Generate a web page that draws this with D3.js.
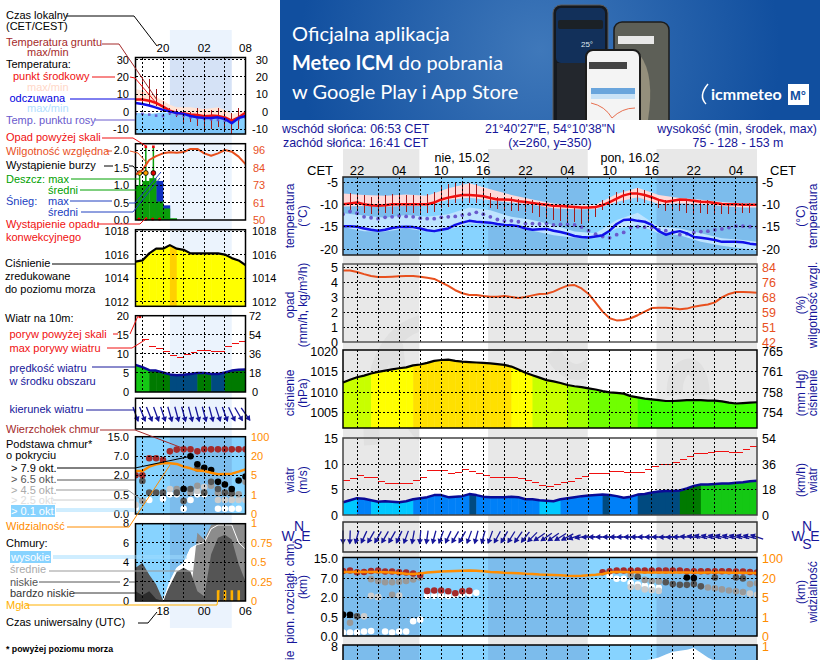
<!DOCTYPE html>
<html>
<head>
<meta charset="utf-8">
<script src="https://cdn.jsdelivr.net/npm/d3@7"></script>
<style>
html, body { margin: 0; padding: 0; background: white; overflow: hidden; }
svg { display: block; }
text { font-family: "Liberation Sans", Arial, sans-serif; }
</style>
</head>
<body>
<div id="chart"></div>
<script>
// ---------- main meteogram, one value per hour, hour 0 = 14.02 20:00 CET
const tempMid = [-10,-9.8,-9.6,-10,-10.2,-10.3,-10.2,-10,-10,-10,-10,-10,-10,-9.6,-8.9,-8.5,-8.2,-7.9,-7.9,-8,-8.2,-8.6,-8.9,-8.9,-9,-9.3,-9.5,-9.7,-9.9,-10.1,-10.3,-10.4,-10.5,-10.6,-10.7,-10.7,-10.6,-10.2,-9.5,-8.7,-8,-7.6,-7.6,-7.9,-8.4,-9,-9.4,-9.2,-8.9,-9,-9.2,-9.4,-9.5,-9.7,-9.9,-10,-10,-10.1,-10.1,-10.1]
const feelMid = [-14.9,-14.9,-15,-15.4,-15.7,-15.9,-15.7,-15.3,-15.1,-15,-15.1,-15.4,-15.8,-16,-15.7,-15.4,-14.6,-14.1,-13.7,-13.9,-14,-14.1,-14.4,-14.6,-14.7,-14.9,-15.4,-15.7,-15.6,-15.5,-15.9,-16.2,-16.6,-17.1,-17.3,-17.4,-17.2,-16.9,-15.9,-14.4,-13.5,-13.4,-13.7,-13.9,-14.6,-16,-16.8,-16.3,-16,-16.5,-17.3,-17.5,-17.7,-18,-18.4,-18.4,-18.4,-18.5,-18.8,-19]
const dewPoint = [-12.2,-11.6,-12,-12.8,-13,-13.2,-12.9,-12.8,-12.6,-12.7,-12.8,-13.1,-13.2,-13.2,-12.9,-12.8,-12.7,-12.4,-12.2,-11.8,-12.2,-12.8,-13.4,-13.7,-13.7,-13.9,-14.3,-14.3,-14.4,-14.3,-14.6,-14.5,-14.5,-14.6,-15.1,-15.9,-16.7,-17.2,-17.5,-16.8,-16.3,-15.2,-15,-15.1,-15.2,-15.7,-15.9,-16.2,-16.8,-16.6,-16.3,-16.1,-16,-15.7,-15.5,-15.2,-14.9,-14.9,-15,-15.1]
// ground temperature starts at hour 1
const groundMax = [-7.4,-7.7,-7.9,-8.4,-7.9,-7.8,-7.7,-7.5,-7.8,-7.8,-8.1,-7.7,-7.3,-6,-5.5,-5.3,-5.1,-5.3,-5.4,-6.3,-7.4,-8.4,-8.4,-8.4,-8.7,-8.9,-9,-9.4,-9.4,-10.1,-10.1,-10.4,-10.4,-10.5,-10.5,-10.4,-9,-8.1,-7.2,-6.8,-6.6,-6.4,-6.8,-7.5,-8.7,-9,-8.9,-8.7,-8.9,-9,-9,-9,-9.3,-9.6,-9.6,-9.6,-9.8,-9.8]
const groundMin = [-11.3,-11.6,-11.9,-12.2,-12.2,-12,-12.2,-11.6,-11.8,-11.9,-11.9,-12,-11.7,-10.9,-10.7,-9.8,-9.6,-9.6,-9.8,-9.9,-10.9,-11.1,-11.3,-11.4,-11.4,-11.8,-12,-12.8,-13.1,-13.5,-13.7,-14.3,-13.9,-14.3,-13.9,-12.8,-11.3,-10.7,-10.1,-9.8,-9.4,-9.4,-9.6,-10.1,-10.9,-11.4,-11.4,-11.6,-11.9,-12,-12,-12.2,-12.2,-12.2,-12.2,-12,-11.9,-12]
// min/max bands are read every 3 hours
const bandHours = [0,3,6,9,12,15,18,21,24,27,30,33,36,39,42,45,48,51,54,57,59]
const tempMax = [-7.6,-7.9,-8.1,-7.8,-8.1,-6.4,-5.3,-6.6,-7.9,-8.9,-9.8,-10.2,-10.1,-7.7,-6.3,-7.9,-8.6,-9,-9.5,-9.8,-9.8]
const tempMin = [-10.5,-10.4,-10.5,-10.4,-10.4,-9,-8.5,-9.1,-9.6,-10.1,-10.9,-11.1,-11.1,-9.5,-8.4,-9.9,-9.8,-9.9,-10.4,-10.7,-10.7]
const feelMax = [-12,-12.5,-13,-12.4,-12.8,-12.2,-10.7,-11.3,-12.8,-13.5,-14.6,-16.1,-16.5,-13.5,-11.9,-15,-15.4,-16.5,-17.6,-18,-18.4]
const feelMin = [-15.1,-16,-16.1,-15.4,-16.1,-15.7,-14.3,-14.4,-15,-15.9,-16.9,-17.5,-17.6,-15.4,-14.6,-16.5,-16.9,-18.4,-19.3,-19.9,-20.4]

const humidity = [82,82,81.2,80,79,78.4,78.4,78.6,78.8,79,79,78.6,78,77.3,75.4,73.4,71,69.3,68.3,68.3,67.8,67.4,67.4,67.8,67.2,66.6,67.2,68.1,68.9,69,70.2,72,73.6,73.9,72,68.9,64,59,55.3,54.1,54.3,55.3,57,59,61,61.2,61.2,60.9,60.3,60.7,61.8,62.4,63,64.2,67,68.9,70,70,69.8,69.6]
const pressure = [1012.3,1013,1013.6,1014,1014.5,1014.9,1015.2,1015.5,1015.8,1016,1016.5,1016.7,1017.1,1017.6,1017.8,1017.9,1017.6,1017.4,1017.3,1017.2,1017.1,1017,1016.8,1016.6,1016.2,1015.5,1014.7,1014.1,1013.5,1012.9,1012.6,1012.2,1011.7,1011.4,1011.2,1010.9,1010.6,1010.2,1009.9,1009.8,1009.6,1009,1008.7,1008.4,1008.2,1008,1007.8,1007.8,1007.9,1008,1008,1008,1007.9,1007.9,1007.7,1007.4,1007.2,1007.3,1007.4,1007.5]
const windSpeed = [2.5,2.9,3.3,3.2,2.9,2.6,2.7,2.6,2.5,2.7,3.1,3.3,3.5,3.9,3.9,3.5,3.6,3.7,4.1,3.9,3.6,3.5,3.5,3.5,3.6,3.5,3.1,3.1,2.9,2.8,2.7,3.1,3.3,3.5,3.7,3.8,3.9,4,3.9,3.7,3.4,3.6,4,4.1,4.4,4.6,4.7,4.7,4.8,5.2,5.7,6,6,6.1,6.2,6.2,6.3,6.4,6.6,6.7]
// gust is a step over each hour, so one value fewer
const windGust = [6.8,7.2,7.7,7.4,7.4,6.6,6.2,6.2,6.2,6.2,6.8,7.4,8.8,8.8,8.8,8.2,8.4,9,8.6,8.2,7.8,7.4,7.4,7.4,7.4,7.2,6.8,6.4,5.8,5.6,6,6.4,6.6,7.2,7.5,8.2,8.2,8.2,8.6,8.6,8.4,8.4,8.4,9,9.6,10,10,10.3,10.9,11.5,12,12,12.2,12.4,12.4,12.2,12.2,12.8,13.4]
const windDir = [0,2,15,25,30,30,30,30,25,20,10,5,8,15,20,25,30,30,20,15,15,20,28,30,32,35,38,45,55,55,55,58,62,70,80,88,90,90,90,90,90,90,90,90,90,90,88,88,90,95,100,105,105,105,105,105,105,105,105,108]
const visibility = [44,44,45,44,44,44,43,42,40,37,36,38,42,44,46,47,48,49,50,49,47,44,43,41,40,39,37,36,34,33,32,31,29,28,29,31,33,36,43,44,44,43,43,42,42,42,42,42,42,42,42,41,42,42,42,41,41,41,40,40]

// cloud base dots: [hour, km], only hours where a dot is drawn
const topMain = [[0,9.8],[1,10],[2,9.3],[3,9.4],[4,9.8],[5,10],[6,9.6],[7,9.6],[8,9.3],[9,9.2],[10,8.8],[11,8.2],[12,3.6],[13,3.7],[14,3.7],[15,3.5],[16,3],[17,3.5],[18,3.6],[37,9.3],[38,9.7],[39,10],[40,10],[41,10],[42,10],[43,10],[44,10],[45,10],[46,10],[47,10],[48,10],[49,9.7],[50,9.7],[51,9.7],[52,9.7],[53,9.7],[54,9.7],[55,9.7],[56,9.6],[57,9.6],[58,9.4],[59,9.2]]
const okt79Main = [[0,.66],[1,.66],[49,7.2],[50,7]]
const okt65Main = [[0,.68],[2,.55],[42,7.5],[46,5.9],[47,5.4],[48,5.2],[49,5.2],[50,5.4],[51,4.8],[53,7.2],[56,7.2],[57,6.9]]
const okt45Main = [[1,.35],[4,6.7],[5,6.2],[6,5.9],[7,5.9],[8,6],[9,6.2],[10,6.6],[11,7.2],[7,2.6],[41,8.2],[43,6.5],[44,6.2],[45,6.1],[52,4.5],[53,4.3],[54,4],[55,3.7],[56,3.5],[57,3.3],[58,5.4],[59,5.6]]
const okt25Main = [[3,.55],[4,2.3],[5,2],[8,2.4],[41,4.6],[42,4.6],[43,4],[44,3.8],[45,3.6],[57,3.2],[58,2.9],[59,2.6]]
const okt01Main = [[0,.09],[1,.09],[2,.09],[3,.12],[4,.13],[6,.12],[7,.09],[8,.12],[9,.12],[10,.39],[11,.43],[5,2],[12,2.3],[13,2.3],[14,2.3],[15,2.3],[16,2.5],[17,2.8],[18,2.9],[19,3.1],[38,7.8],[39,6.8],[40,6.8],[41,5.7],[42,5.3],[43,5],[44,4.6],[45,4.4]]
// high cloud cover near the top of the cut-off panel
const coverHours = [41,42,43,44,45,46,47,48,49,50,51,52,53,54]
const coverHigh = [5.5,6.3,6.5,6.6,6.8,7.1,7.4,7.5,7.6,7.8,7.3,6.8,6.4,5.8]

// ---------- small meteogram on the left, hour 0 = 16:00 CET
const smTempMid = [7,7,6.3,5,2.9,.6,-.8,-1,-1.7,-2,-2.7,-2.3,-2.5,-3.3,-5.2,-3.3,-.6]
const smFeelMid = [5,4.4,3.5,2.3,1,0,-.8,-1.3,-2.5,-3.3,-3.7,-3.7,-3.3,-4.2,-6.7,-3.7,-2.5]
const smTempMax = [13,12,11,8.5,6.3,4,2.5,2.5,2.5,2,1.5,2,2.5,1,-1.3,-.5,.6]
const smTempMin = [6.3,6,5,3,1,-.5,-1.5,-2,-2.5,-3,-3.3,-3.3,-3.3,-4,-6,-4,-1.5]
const smFeelMax = [-.8,-1,-1.3,-1,-.4,-1,-1.3,-2,-2.3,-3,-3.3,-3.3,-3.3,-4,-5.2,-4,-2.3]
const smDew = [-1.3,-1.3,-1.7,-2.3,-2.5,-1,-1.7,-2.3,-3.3,-3.7,-4.2,-4.4,-4.8,-5.2,-5.6,-4.4,-3.3]
const smGroundHours = [1,2,3,4,5,6,7,8,9,10,11,12,13,14,15,16]
const smGroundMax = [20,19,13,6,2,1.5,0,0,2,1.5,1,2,0,-1,2,3]
const smGroundMin = [5,4,3,0,-2,-3,-6,-6,-8,-10,-10,-9,-12,-13,-10,-6]
const smRainMean = [1,1.12,1.2,.53,.33,.05,0,0]
const smSnowMean = [0,0,0,1.12,.42,0,0,0]
const smRainMaxHours = [.6,1.5,2.6]
const stormColors = ["#ffe000", "#ffa000", "#e00000"]
const smHumidity = [80,82.9,89.6,92.2,94,94.7,94.4,94.9,96.9,96.9,94,92.4,94,96.2,95.1,91.8,86.9]
const smPressure = [1015.4,1015.5,1016.1,1016.5,1016.5,1016.8,1016.5,1016.4,1016.1,1016.1,1016.1,1016.1,1016.1,1016,1015.7,1015.5,1015.1]
const smWind = [7.1,6.5,5.7,5.6,5.1,4.6,4.4,4.5,4.7,5,5,4.7,4.7,5.1,5.6,5.8,5.9]
const smGust = [null,13.6,11.8,11.5,10.6,9.6,8.9,9.8,10.4,10.9,10.9,10.6,10.6,11.8,12.8,13.1]
const smDir = [340,338,338,340,342,344,345,345,345,345,345,345,342,340,335,330,325]
const smVisibility = [8.4,8.4,11.8,13.7,14.5,14.5,14,11.8,10.5,8.7,8.4,7,5.8,6,6.3,7.9,9.7]
const smTop = [2,2,6.5,6.5,6,9,9.7,9.8,9.8,9,9.8,9.8,9.8,9.8,9.8,9.8,9.8]
const smOkt79 = [[7,.96],[8,7],[9,4.9],[10,4],[11,3.4],[12,1.5],[13,1.3],[14,.96],[15,1.6],[16,1.9]]
const smOkt65 = [[1,1.57],[2,.68],[3,.68],[4,.68],[6,.68],[7,.34],[8,.96],[9,3.8],[10,.68],[11,1.5],[12,.96],[13,.68],[14,.64]]
const smOkt45 = [[1,.34],[6,.96],[8,.68],[9,1.2],[11,1.2],[12,.64],[14,.6],[15,.56],[16,1.5]]
const smOkt25 = [[0,.24],[5,.96],[6,.64],[9,.8],[10,1.1],[12,.37],[13,.37],[14,.37],[15,.37],[16,.37]]
const smOkt01 = [[0,.15],[2,.37],[4,.4],[5,.55],[6,.55],[7,.14],[8,.37],[9,.55],[10,.55],[12,.14],[13,.14],[14,.14],[15,.14]]
const smHigh = [0,0,0,0,0,2,3.4,3.9,5.4,5.8,6,7.4,7.8,7.8,7.8,6,5.3]
const smMid = [1.5,1,1,.5,0,0,.5,1,.6,7,6.3,7.8,8,8,8,8,8]
const smLow = [3.4,3.9,2.7,1.7,.1,1.6,3,3.4,3,1,.5,4.8,6.5,6.8,6.3,3.8,2]
const smVeryLow = [1,.6,1,.2,0,0,0,0,0,0,0,0,0,0,0,0,0]
const smFogHours = [12,13,14,15]
const smFog = [1.1,1.1,1.1,1.1]

// ---------- tick labels
const humLabels = [84,76,68,59,51,42]
const smHumLabels = [96,84,73,61,50]
const coverLabels = ["1","0.75","0.5","0.25","0"]
const kmTicks = [0,.5,2,7,15]
const visTicks = [0,1,5,20,100]

const NAVY = "#16169a", NIGHT = "#7cbcec", DAY = "#87d3ff", RUST = "#e8501e", ORANGE = "#ff8c00"
const width = 820, height = 660

const svg = d3.select("#chart").append("svg")
    .attr("width", width)
    .attr("height", height)

const defs = svg.append("defs")
let clipCount = 0
function clipRect(x, y, w, h) {
    const id = "clip" + (clipCount++)
    defs.append("clipPath").attr("id", id).append("rect")
        .attr("x", x).attr("y", y).attr("width", w).attr("height", h)
    return "url(#" + id + ")"
}

function label(parent, t, x, y, color, size, anchor, weight) {
    return parent.append("text")
        .attr("x", x).attr("y", y)
        .attr("fill", color || "black")
        .attr("font-size", size || 11)
        .attr("text-anchor", anchor || "start")
        .attr("font-weight", weight || "normal")
        .text(t)
}
function sideLabel(t, x, y, size) {
    svg.append("text")
        .attr("transform", `translate(${x},${y}) rotate(-90)`)
        .attr("text-anchor", "middle")
        .attr("fill", NAVY)
        .attr("font-size", size || 12)
        .text(t)
}

// a tick column through d3's axis, grid is drawn separately
function ticks(x, scale, values, side, opt) {
    opt = opt || {}
    const ax = (side === "left" ? d3.axisLeft(scale) : d3.axisRight(scale))
        .tickValues(values)
        .tickSize(0)
        .tickPadding(0)
        .tickFormat(opt.format || (d => d))
    const g = svg.append("g").attr("transform", `translate(${x},0)`).call(ax)
    g.select(".domain").remove()
    g.selectAll("text")
        .attr("fill", opt.color || "black")
        .attr("font-size", opt.size || 12.5)
        .attr("font-family", '"Liberation Sans", Arial, sans-serif')
    if (opt.anchor) g.selectAll("text").attr("text-anchor", opt.anchor)
}

function grid(p, x, hours, y, values) {
    const g = svg.append("g")
        .attr("stroke", "black")
        .attr("stroke-width", 1)
        .attr("stroke-dasharray", "2,2")
        .attr("shape-rendering", "crispEdges")
    g.selectAll(".v").data(hours).join("line")
        .attr("x1", d => x(d)).attr("x2", d => x(d))
        .attr("y1", p.top).attr("y2", p.bottom)
    g.selectAll(".h").data(values).join("line")
        .attr("x1", x.range()[0]).attr("x2", x.range()[1])
        .attr("y1", d => y(d)).attr("y2", d => y(d))
}
function frame(p, x, color) {
    svg.append("rect")
        .attr("x", x.range()[0]).attr("y", p.top)
        .attr("width", x.range()[1] - x.range()[0])
        .attr("height", p.bottom - p.top)
        .attr("fill", "none")
        .attr("stroke", color || "black")
        .attr("stroke-width", 1.5)
}
function bandArea(g, hours, hi, lo, x, y, color) {
    g.append("path").datum(hours.map((h, i) => ({h, hi: hi[i], lo: lo[i]})))
        .attr("fill", color)
        .attr("d", d3.area().x(d => x(d.h)).y0(d => y(d.lo)).y1(d => y(d.hi)))
}
function hourLine(g, values, x, y, color, w) {
    g.append("path").datum(values)
        .attr("fill", "none")
        .attr("stroke", color)
        .attr("stroke-width", w)
        .attr("stroke-linejoin", "round")
        .attr("d", d3.line().defined(d => d !== null).x((d, i) => x(i)).y(d => y(d)))
}
function dots(g, data, x, y, color, r) {
    g.selectAll(null).data(data).join("circle")
        .attr("cx", d => x(d[0])).attr("cy", d => y(d[1]))
        .attr("r", r).attr("fill", color)
}
// light/dark sky behind temperature and cloud panels
function skyBands(g, p, x, night, sunrise, sunset) {
    const x0 = x.range()[0], x1 = x.range()[1]
    g.append("rect").attr("x", x0).attr("y", p.top).attr("width", x1 - x0).attr("height", p.bottom - p.top).attr("fill", night)
    sunrise.forEach((s, i) => {
        g.append("rect").attr("x", x(s)).attr("y", p.top)
            .attr("width", x(sunset[i]) - x(s)).attr("height", p.bottom - p.top)
            .attr("fill", DAY)
    })
}
function arrows(g, dirs, x, cy, len, head) {
    dirs.forEach((dir, i) => {
        const a = dir * Math.PI / 180
        const dx = Math.sin(a) * len / 2, dy = -Math.cos(a) * len / 2
        const tx = x(i) - dx, ty = cy - dy   // tip
        g.append("line")
            .attr("x1", x(i) + dx).attr("y1", cy + dy)
            .attr("x2", tx).attr("y2", ty)
            .attr("stroke", NAVY).attr("stroke-width", 1.3)
        const ux = -Math.sin(a), uy = Math.cos(a)
        g.append("path")
            .attr("fill", NAVY)
            .attr("d", `M${tx + ux},${ty + uy}L${tx - ux * head - uy * head * .7},${ty - uy * head + ux * head * .7}L${tx - ux * head + uy * head * .7},${ty - uy * head - ux * head * .7}Z`)
    })
}

// ---------- day and night strip of the main chart
const hourX = d3.scaleLinear().domain([0, 59]).range([343, 757])
const sunriseMain = [10.88, 34.88], sunsetMain = [20.68, 44.68]
const stripTop = 149
svg.append("rect").attr("x", 343).attr("y", stripTop).attr("width", 414).attr("height", height - stripTop).attr("fill", "#e8e8e8")
// faint logo watermark, only seen in the grey night parts
svg.append("g").attr("fill", "none").attr("stroke", "#e0e0e0").attr("stroke-width", 16)
    .selectAll("path").data([
        "M372,445 C368,375 385,330 425,322",
        "M395,345 C400,390 405,420 425,436",
        "M552,352 C565,375 585,382 600,352",
        "M675,395 C672,365 700,350 702,395"
    ]).join("path").attr("d", d => d)
sunriseMain.forEach((s, i) => {
    svg.append("rect").attr("x", hourX(s)).attr("y", stripTop)
        .attr("width", hourX(sunsetMain[i]) - hourX(s)).attr("height", height - stripTop).attr("fill", "white")
})

// ---------- banner
const bannerGrad = defs.append("radialGradient").attr("id", "bannerGrad")
    .attr("gradientUnits", "userSpaceOnUse").attr("cx", 540).attr("cy", 50).attr("r", 240)
bannerGrad.append("stop").attr("offset", "0%").attr("stop-color", "#3f78ba")
bannerGrad.append("stop").attr("offset", "100%").attr("stop-color", "#114f9f")
svg.append("rect").attr("x", 280).attr("y", 0).attr("width", 540).attr("height", 120).attr("fill", "url(#bannerGrad)")
const bannerFont = "Lato"
label(svg, "Oficjalna aplikacja", 292, 41, "white", 20).style("font-family", bannerFont)
const bannerMid = label(svg, "", 292, 70, "white", 20).style("font-family", bannerFont)
bannerMid.append("tspan").attr("font-weight", "bold").text("Meteo ICM")
bannerMid.append("tspan").text(" do pobrania")
label(svg, "w Google Play i App Store", 292, 99, "white", 20).style("font-family", bannerFont)

const phones = svg.append("g").attr("clip-path", clipRect(280, 0, 540, 120))
phones.append("rect").attr("x", 553).attr("y", 5).attr("width", 55).attr("height", 125).attr("rx", 8).attr("fill", "#15191f").attr("stroke", "#5a5a5a")
phones.append("rect").attr("x", 556).attr("y", 8).attr("width", 49).attr("height", 55).attr("rx", 5).attr("fill", "#12305a")
phones.append("rect").attr("x", 558).attr("y", 20).attr("width", 45).attr("height", 9).attr("rx", 2).attr("fill", "#1b2126")
phones.append("rect").attr("x", 557).attr("y", 63).attr("width", 48).attr("height", 60).attr("fill", "#23272d")
label(phones, "25°", 587, 47, "#dfe8f2", 8, "middle")
phones.append("rect").attr("x", 614).attr("y", 22).attr("width", 55).attr("height", 110).attr("rx", 8).attr("fill", "#5d5f57").attr("stroke", "#1c1c1c").attr("stroke-width", 1.5)
phones.append("rect").attr("x", 618).attr("y", 36).attr("width", 36).attr("height", 8).attr("fill", "#e8e8e8")
phones.append("path").attr("d", "M640,55 Q655,75 648,120 L632,120 Q636,85 640,55").attr("fill", "#948f7c")
phones.append("rect").attr("x", 586).attr("y", 50).attr("width", 54).attr("height", 80).attr("rx", 7).attr("fill", "#f4f4f4").attr("stroke", "#1c1c1c").attr("stroke-width", 2)
phones.append("rect").attr("x", 589).attr("y", 62).attr("width", 38).attr("height", 7).attr("fill", "#444")
phones.append("rect").attr("x", 591).attr("y", 88).attr("width", 44).attr("height", 6).attr("fill", "#6aa5dc")
phones.append("rect").attr("x", 591).attr("y", 94).attr("width", 44).attr("height", 5).attr("fill", "#c9e2f6")
phones.append("path").attr("d", "M591,103 Q605,106 612,118 Q622,108 635,108").attr("fill", "none").attr("stroke", "#e87050")
label(svg, "icmmeteo", 711, 100, "white", 16, "start", "bold").style("font-family", bannerFont)
svg.append("path").attr("d", "M708,84 Q698,96 706,104").attr("fill", "none").attr("stroke", "white").attr("stroke-width", 1.5)
svg.append("rect").attr("x", 788).attr("y", 84).attr("width", 21).attr("height", 21).attr("fill", "white")
label(svg, "M°", 798, 100, "#114f9f", 13, "middle", "bold")

// ---------- header lines
const headSize = 12.4
label(svg, "wschód słońca: 06:53 CET", 282, 133, NAVY, headSize)
label(svg, "zachód słońca: 16:41 CET", 283, 147, NAVY, headSize)
label(svg, "21°40'27\"E, 54°10'38\"N", 550, 133, NAVY, headSize, "middle")
label(svg, "(x=260, y=350)", 550, 147, NAVY, headSize, "middle")
label(svg, "wysokość (min, środek, max)", 817, 133, NAVY, headSize, "end")
label(svg, "75 - 128 - 153 m", 738, 147, NAVY, headSize, "middle")
label(svg, "nie, 15.02", 462, 162, "black", 12.5, "middle")
label(svg, "pon, 16.02", 630, 162, "black", 12.5, "middle")
label(svg, "CET", 307, 175, "black", 13)
label(svg, "CET", 770, 175, "black", 13)

const hourLabels = ["22","04","10","16","22","04","10","16","22","04"]
const labelHours = d3.range(2, 59, 6)
svg.append("g").selectAll("text").data(labelHours).join("text")
    .attr("x", d => hourX(d)).attr("y", 175)
    .attr("text-anchor", "middle").attr("font-size", 13)
    .text((d, i) => hourLabels[i])

const gridHours = d3.range(2, 59, 3)
const LEFT = 338, RIGHT = 762
// baselines of the rotated panel titles
const COL1 = 294, COL2 = 307, COL3 = 805, COL4 = 817

// ---------- main: temperature
const pTemp = {top: 177, bottom: 255}
const yTemp = d3.scaleLinear().domain([-20, -5]).range([249, 182])
const gTemp = svg.append("g").attr("clip-path", clipRect(343, pTemp.top, 414, pTemp.bottom - pTemp.top))
skyBands(gTemp, pTemp, hourX, NIGHT, sunriseMain, sunsetMain)
bandArea(gTemp, bandHours, feelMax, feelMin, hourX, yTemp, "#bfe4ff")
bandArea(gTemp, bandHours, tempMax, tempMin, hourX, yTemp, "#ffd9d9")
const groundLines = gTemp.append("g").attr("stroke", "#a01818").attr("stroke-width", 1).attr("shape-rendering", "crispEdges")
groundMax.forEach((d, i) => {
    groundLines.append("line")
        .attr("x1", hourX(i + 1)).attr("x2", hourX(i + 1))
        .attr("y1", yTemp(d)).attr("y2", yTemp(groundMin[i]))
})
gTemp.selectAll(null).data(dewPoint).join("circle")
    .attr("cx", (d, i) => hourX(i)).attr("cy", d => yTemp(d))
    .attr("r", 1.9).attr("fill", "#6a5acd")
hourLine(gTemp, tempMid, hourX, yTemp, "#f01010", 2.5)
hourLine(gTemp, feelMid, hourX, yTemp, "#1010e8", 2.5)
grid(pTemp, hourX, gridHours, yTemp, [-20, -15, -10, -5])
frame(pTemp, hourX, "#222")
ticks(LEFT, yTemp, [-5, -10, -15, -20], "left")
ticks(RIGHT, yTemp, [-5, -10, -15, -20], "right")
sideLabel("temperatura", COL1, 216)
sideLabel("(°C)", COL2, 216)
sideLabel("(°C)", COL3, 216)
sideLabel("temperatura", COL4, 216)

// ---------- main: precipitation (none) and humidity
const pRain = {top: 264, bottom: 342}
const yRain = d3.scaleLinear().domain([0, 5]).range([342, 267])
const yHum = d3.scaleLinear().domain([42, 84]).range([342, 267])
const gRain = svg.append("g")
hourLine(gRain, humidity, hourX, yHum, RUST, 2)
grid(pRain, hourX, gridHours, yRain, [1, 2, 3, 4, 5])
frame(pRain, hourX, "#555")
ticks(LEFT, yRain, [0, 1, 2, 3, 4, 5], "left")
ticks(RIGHT, yRain, [5, 4, 3, 2, 1, 0], "right", {color: RUST, format: (d, i) => humLabels[i]})
sideLabel("opad", COL1, 305)
sideLabel("(mm/h, kg/m³/h)", COL2, 305)
sideLabel("(%)", COL3, 305)
sideLabel("wilgotność wzgl.", COL4, 305)

// ---------- main: pressure
const pPres = {top: 350, bottom: 428}
const yPres = d3.scaleLinear().domain([1005, 1020]).range([412.5, 351])
const presColor = d3.scaleThreshold()
    .domain([1009, 1011, 1012.2, 1014.3, 1016.4])
    .range(["#40ff00", "#70ff00", "#a0ff00", "#c8ff00", "#ffff00", "#ffe000"])
function fillUnder(values, x, y, bottom, color, bandW) {
    const id = "clip" + (clipCount++)
    defs.append("clipPath").attr("id", id).append("path").datum(values)
        .attr("d", d3.area().x((d, i) => x(i)).y0(bottom).y1(d => y(d)))
    svg.append("g").attr("clip-path", "url(#" + id + ")")
        .selectAll("rect").data(values.slice(0, -1)).join("rect")
        .attr("x", (d, i) => x(i)).attr("y", y.range()[1] - 5)
        .attr("width", bandW + .5).attr("height", bottom - y.range()[1] + 5)
        .attr("fill", d => color(d))
}
fillUnder(pressure, hourX, yPres, pPres.bottom, presColor, hourX(1) - hourX(0))
hourLine(svg, pressure, hourX, yPres, "black", 2.2)
grid(pPres, hourX, gridHours, yPres, [1005, 1010, 1015])
frame(pPres, hourX)
ticks(LEFT, yPres, [1020, 1015, 1010, 1005], "left")
ticks(RIGHT, yPres, [1020, 1015, 1010, 1005], "right", {format: d => Math.round(d * 0.750062)})
sideLabel("ciśnienie", COL1, 393)
sideLabel("(hPa)", COL2, 393)
sideLabel("(mm Hg)", COL3, 393)
sideLabel("ciśnienie", COL4, 393)

// ---------- main: wind
const pWind = {top: 438, bottom: 515}
const yWind = d3.scaleLinear().domain([0, 15]).range([515, 438.5])
const windColor = d3.scaleThreshold()
    .domain([2.95, 3.95, 4.75, 5.9])
    .range(["#00c8ff", "#0080f8", "#004a80", "#007a00", "#14c814"])
fillUnder(windSpeed, hourX, yWind, pWind.bottom, windColor, hourX(1) - hourX(0))
hourLine(svg, windSpeed, hourX, yWind, "#0a0a96", 2.5)
svg.append("g").attr("stroke", "#f01010").attr("stroke-width", 1).attr("shape-rendering", "crispEdges")
    .selectAll("line").data(windGust).join("line")
    .attr("x1", (d, i) => hourX(i)).attr("x2", (d, i) => hourX(i + 1))
    .attr("y1", d => yWind(d)).attr("y2", d => yWind(d))
grid(pWind, hourX, gridHours, yWind, [5, 10])
frame(pWind, hourX, "#444")
ticks(LEFT, yWind, [15, 10, 5, 0], "left")
ticks(RIGHT, yWind, [15, 10, 5, 0], "right", {format: d => d * 3.6})
sideLabel("wiatr", COL1, 480)
sideLabel("(m/s)", COL2, 480)
sideLabel("(km/h)", COL3, 480)
sideLabel("wiatr", COL4, 480)

// ---------- main: wind direction
const pDir = {top: 522, bottom: 552}
grid(pDir, hourX, gridHours, d3.scaleLinear(), [])
arrows(svg.append("g"), windDir, hourX, 537, 13, 4.2)
frame(pDir, hourX, "#333")
label(svg, "W", 288, 541, NAVY, 14, "middle")
label(svg, "N", 299, 531, NAVY, 14, "middle")
label(svg, "E", 306, 541, NAVY, 14, "middle")
label(svg, "S", 298, 549, NAVY, 14, "middle")
label(svg, "W", 798, 541, NAVY, 14, "middle")
label(svg, "N", 807, 531, NAVY, 14, "middle")
label(svg, "E", 815, 541, NAVY, 14, "middle")
label(svg, "S", 807, 549, NAVY, 14, "middle")

// ---------- main: cloud base
const pCloud = {top: 557.5, bottom: 636}
const yKm = d3.scaleLinear().domain(kmTicks).range([636, 617, 597, 578, 558])
const yVis = d3.scaleLinear().domain(visTicks).range([636, 617, 597, 578, 558])
const gCloud = svg.append("g").attr("clip-path", clipRect(343, pCloud.top, 414, pCloud.bottom - pCloud.top))
skyBands(gCloud, pCloud, hourX, NIGHT, sunriseMain, sunsetMain)
const dotR = 3.3
dots(gCloud, okt01Main, hourX, yKm, "white", dotR)
dots(gCloud, okt25Main, hourX, yKm, "#cccccc", dotR)
dots(gCloud, okt45Main, hourX, yKm, "#999999", dotR)
dots(gCloud, okt65Main, hourX, yKm, "#555555", dotR)
dots(gCloud, okt79Main, hourX, yKm, "black", dotR)
dots(gCloud, topMain, hourX, yKm, "#a52a2a", dotR)
hourLine(gCloud, visibility, hourX, yVis, ORANGE, 2.5)
grid(pCloud, hourX, gridHours, yKm, [.5, 2, 7])
frame(pCloud, hourX)
ticks(LEFT, yKm, kmTicks, "left", {format: d3.format(".1f")})
ticks(RIGHT, yVis, visTicks, "right", {color: ORANGE})
sideLabel("pion. rozciągł. chm.", COL1, 592)
sideLabel("(km)", COL2, 587)
sideLabel("(km)", COL3, 592)
sideLabel("widzialność", COL4, 592)
sideLabel("zachmurzenie", COL1, 688)

// ---------- main: cloud cover, cut by the window
const pCover = {top: 645, bottom: 722}
const yCover = d3.scaleLinear().domain([0, 8]).range([722, 646])
const gCover = svg.append("g").attr("clip-path", clipRect(343, pCover.top, 414, pCover.bottom - pCover.top))
skyBands(gCover, pCover, hourX, NIGHT, sunriseMain, sunsetMain)
bandArea(gCover, coverHours, coverHigh, coverHours.map(() => 0), hourX, yCover, "white")
grid(pCover, hourX, gridHours, yCover, [])
frame(pCover, hourX)
ticks(LEFT, yCover, [8], "left")
ticks(RIGHT, d3.scaleLinear().domain([0, 1]).range([722, 646]), [1], "right", {color: ORANGE})

// ---------- small chart: day strip
const smX = d3.scaleLinear().domain([0, 16]).range([135.5, 245.5])
svg.append("rect").attr("x", smX(5)).attr("y", 30).attr("width", smX(14) - smX(5)).attr("height", 598).attr("fill", "#ebf3fd")
const smGrid = [1, 4, 7, 10, 13, 16]
const smS = 11

// small: temperature
const sTemp = {top: 57.5, bottom: 134}
const syTemp = d3.scaleLinear().domain([-10, 30]).range([129, 59.5])
const gsTemp = svg.append("g").attr("clip-path", clipRect(135.5, sTemp.top, 110, sTemp.bottom - sTemp.top))
const smHours = d3.range(0, 17)
bandArea(gsTemp, smHours, smFeelMax, smHours.map(() => -14), smX, syTemp, "#86d0ff")
gsTemp.append("rect").attr("x", smX(5)).attr("y", sTemp.top).attr("width", smX(14) - smX(5)).attr("height", 77).attr("fill", "#3a6fc8").attr("opacity", .12)
bandArea(gsTemp, smHours, smTempMax, smTempMin, smX, syTemp, "#ffe4d6")
const smLines = gsTemp.append("g").attr("stroke", "#a01818").attr("stroke-width", 1).attr("shape-rendering", "crispEdges")
smGroundMax.forEach((d, i) => {
    smLines.append("line")
        .attr("x1", smX(smGroundHours[i])).attr("x2", smX(smGroundHours[i]))
        .attr("y1", syTemp(d)).attr("y2", syTemp(smGroundMin[i]))
})
gsTemp.selectAll(null).data(smDew).join("rect")
    .attr("x", (d, i) => smX(i) - 1.3).attr("y", d => syTemp(d) - 1.3)
    .attr("width", 2.6).attr("height", 2.6).attr("fill", "#6a5acd")
hourLine(gsTemp, smTempMid, smX, syTemp, "#f01010", 2.5)
hourLine(gsTemp, smFeelMid, smX, syTemp, "#1010e8", 2.5)
grid(sTemp, smX, smGrid, syTemp, [-10, 0, 10, 20, 30])
frame(sTemp, smX)
ticks(129, syTemp, [30, 20, 10, 0, -10], "left", {size: smS})
ticks(268, syTemp, [30, 20, 10, 0, -10], "right", {size: smS, anchor: "end"})

// small: precipitation
const sRain = {top: 143.7, bottom: 220}
const syRain = d3.scaleLinear().domain([0, 2]).range([220, 150.3])
const gsRain = svg.append("g")
const syHum = d3.scaleLinear().domain([50, 96]).range([220, 150.3])
gsRain.selectAll(".snow").data(smSnowMean).join("rect")
    .attr("x", (d, i) => smX(i)).attr("width", smX(1) - smX(0) + .3)
    .attr("y", d => syRain(d)).attr("height", d => syRain(0) - syRain(d))
    .attr("fill", "#1030c0")
gsRain.selectAll(".rain").data(smRainMean).join("rect")
    .attr("x", (d, i) => smX(i)).attr("width", smX(1) - smX(0) + .3)
    .attr("y", d => syRain(d)).attr("height", d => syRain(0) - syRain(d))
    .attr("fill", "#0a9e0a")
smRainMaxHours.forEach((h, i) => {
    gsRain.append("line")
        .attr("x1", smX(h)).attr("x2", smX(h))
        .attr("y1", i === 0 ? 173 : 147).attr("y2", 186)
        .attr("stroke", "#0a9e0a").attr("stroke-width", 1.5)
    gsRain.append("circle")
        .attr("cx", smX(h)).attr("cy", 173).attr("r", 2.4)
        .attr("fill", stormColors[i]).attr("stroke", "black").attr("stroke-width", .8)
    if (i > 0) gsRain.append("rect")
        .attr("x", smX(h) - 1.3).attr("y", 145.5).attr("width", 2.6).attr("height", 2.6).attr("fill", "#e80000")
})
d3.range(0, 4).forEach(h => {
    gsRain.append("circle").attr("cx", smX(h + .5)).attr("cy", 219).attr("r", 1.6).attr("fill", "#e80000")
})
hourLine(gsRain, smHumidity, smX, syHum, RUST, 2)
grid(sRain, smX, smGrid, syRain, [.5, 1, 1.5, 2])
frame(sRain, smX)
ticks(129, syRain, [2, 1.5, 1, .5, 0], "left", {size: smS, format: d3.format(".1f")})
ticks(253, syRain, [2, 1.5, 1, .5, 0], "right", {size: smS, color: RUST, format: (d, i) => smHumLabels[i]})

// small: pressure
const sPres = {top: 229.7, bottom: 306.3}
const syPres = d3.scaleLinear().domain([1012, 1018]).range([301.7, 231])
const smPresColor = d3.scaleThreshold().domain([1016.7]).range(["#ffff00", "#ffd000"])
fillUnder(smPressure, smX, syPres, sPres.bottom, smPresColor, smX(1) - smX(0))
hourLine(svg, smPressure, smX, syPres, "black", 2.2)
grid(sPres, smX, smGrid, syPres, [1012, 1014, 1016, 1018])
frame(sPres, smX)
ticks(129, syPres, [1018, 1016, 1014, 1012], "left", {size: smS})
ticks(252, syPres, [1018, 1016, 1014, 1012], "right", {size: smS})

// small: wind
const sWind = {top: 315.7, bottom: 392}
const syWind = d3.scaleLinear().domain([0, 20]).range([392, 315.5])
fillUnder(smWind, smX, syWind, sWind.bottom, windColor, smX(1) - smX(0))
hourLine(svg, smWind, smX, syWind, "#0a0a96", 2.5)
svg.append("g").attr("stroke", "#f01010").attr("stroke-width", 1).attr("shape-rendering", "crispEdges")
    .selectAll("line").data(smGust).join("line")
    .attr("display", d => d === null ? "none" : null)
    .attr("x1", (d, i) => smX(i)).attr("x2", (d, i) => smX(i + 1))
    .attr("y1", d => syWind(d || 0)).attr("y2", d => syWind(d || 0))
svg.append("rect").attr("x", smX(.45)).attr("y", 315.5).attr("width", 2.6).attr("height", 2.6).attr("fill", "#e80000")
grid(sWind, smX, smGrid, syWind, [5, 10, 15])
frame(sWind, smX)
ticks(129, syWind, [20, 15, 10, 5, 0], "left", {size: smS})
ticks(255, syWind, [20, 15, 10, 5, 0], "right", {size: smS, anchor: "middle", format: d => d * 3.6})

// small: wind direction
const sDir = {top: 398.3, bottom: 429}
grid(sDir, smX, smGrid, d3.scaleLinear(), [])
arrows(svg.append("g"), smDir, smX, 414, 15, 4.2)
frame(sDir, smX)

// small: cloud base
const sCloud = {top: 436.7, bottom: 514}
const syKm = d3.scaleLinear().domain(kmTicks).range([514, 495, 475.3, 456.3, 436.5])
const syVis = d3.scaleLinear().domain(visTicks).range([514, 495, 475.3, 456.3, 436.5])
const gsCloud = svg.append("g").attr("clip-path", clipRect(135.5, sCloud.top, 110, sCloud.bottom - sCloud.top))
skyBands(gsCloud, sCloud, smX, DAY, [], [])
gsCloud.append("rect").attr("x", smX(5)).attr("y", sCloud.top).attr("width", smX(14) - smX(5)).attr("height", 78).attr("fill", NIGHT)
dots(gsCloud, smOkt01, smX, syKm, "white", dotR)
dots(gsCloud, smOkt25, smX, syKm, "#cccccc", dotR)
dots(gsCloud, smOkt45, smX, syKm, "#999999", dotR)
dots(gsCloud, smOkt65, smX, syKm, "#555555", dotR)
dots(gsCloud, smOkt79, smX, syKm, "black", dotR)
dots(gsCloud, smTop.map((d, i) => [i, d]), smX, syKm, "#a52a2a", dotR)
hourLine(gsCloud, smVisibility, smX, syVis, ORANGE, 2.5)
grid(sCloud, smX, smGrid, syKm, [.5, 2, 7])
frame(sCloud, smX)
ticks(129, syKm, kmTicks, "left", {size: smS, format: d3.format(".1f")})
ticks(251, syVis, visTicks, "right", {size: smS, color: ORANGE})

// small: cloud cover
const sCover = {top: 523.7, bottom: 601}
const syCover = d3.scaleLinear().domain([0, 8]).range([601, 523])
const gsCover = svg.append("g").attr("clip-path", clipRect(135.5, sCover.top, 110, sCover.bottom - sCover.top))
skyBands(gsCover, sCover, smX, DAY, [], [])
gsCover.append("rect").attr("x", smX(5)).attr("y", sCover.top).attr("width", smX(14) - smX(5)).attr("height", 78).attr("fill", NIGHT)
const zero = smHours.map(() => 0)
bandArea(gsCover, smHours, smHigh, zero, smX, syCover, "white")
bandArea(gsCover, smHours, smMid, zero, smX, syCover, "#8c8c8c")
bandArea(gsCover, smHours, smLow, zero, smX, syCover, "#555555")
bandArea(gsCover, smHours, smVeryLow, zero, smX, syCover, "#2c2c2c")
hourLine(gsCover, smHigh, smX, syCover, "white", 1)
gsCover.selectAll(".fog").data(smFog).join("rect")
    .attr("x", (d, i) => smX(smFogHours[i]) - 1.2).attr("width", 2.6)
    .attr("y", d => syCover(d)).attr("height", d => syCover(0) - syCover(d))
    .attr("fill", "#ffb000")
grid(sCover, smX, smGrid, syCover, [2, 4, 6])
frame(sCover, smX)
ticks(129, syCover, [8, 6, 4, 2, 0], "left", {size: smS})
ticks(251, syCover, [8, 6, 4, 2, 0], "right", {size: smS, color: ORANGE, format: (d, i) => coverLabels[i]})

// small: time labels
const localLabels = ["20", "02", "08"], utcLabels = ["18", "00", "06"]
const smLabelHours = [4, 10, 16]
svg.append("g").selectAll("text").data(smLabelHours).join("text")
    .attr("x", d => smX(d)).attr("y", 52).attr("text-anchor", "middle").attr("font-size", 11.5)
    .text((d, i) => localLabels[i])
svg.append("g").selectAll("text").data(smLabelHours).join("text")
    .attr("x", d => smX(d)).attr("y", 615).attr("text-anchor", "middle").attr("font-size", 11.5)
    .text((d, i) => utcLabels[i])

// ---------- legend text
const GREEN = "#00a000", BROWN = "#a52a2a", RED = "#f01010", BLUE = "#0000e0", SLATE = "#6a5acd"
const legend = [
    ["Czas lokalny", 6, 19, "black"], ["(CET/CEST)", 6, 30, "black"],
    ["Temperatura gruntu", 6, 46, BROWN], ["max/min", 27, 56, BROWN],
    ["Temperatura:", 6, 68, "black"], ["punkt środkowy", 13, 80, RED],
    ["max/min", 27, 91, "#ffd8c8"], ["odczuwana", 9.5, 102, BLUE],
    ["max/min", 27, 112, "#b0e0ff"], ["Temp. punktu rosy", 6, 124, SLATE],
    ["Opad powyżej skali", 6, 141, RED], ["Wilgotność względna", 6, 155, RUST],
    ["Wystąpienie burzy", 6, 169, "black"], ["Deszcz: max", 6, 183, GREEN],
    ["średni", 48, 194, GREEN], ["Śnieg:", 6, 205, "#2040c0"], ["max", 48, 205, "#2040c0"],
    ["średni", 48, 216, "#2040c0"], ["Wystąpienie opadu", 6, 228, RED], ["konwekcyjnego", 6, 241, RED],
    ["Ciśnienie", 5, 267, "black"], ["zredukowane", 5, 280, "black"], ["do poziomu morza", 5, 293, "black"],
    ["Wiatr na 10m:", 5, 322, "black"], ["poryw powyżej skali", 9.5, 338, RED], ["max porywy wiatru", 9.5, 352, RED],
    ["prędkość wiatru", 9.5, 372, NAVY], ["w środku obszaru", 9.5, 385, NAVY], ["kierunek wiatru", 9.5, 413, NAVY],
    ["Wierzchołek chmur", 6, 433, BROWN], ["Podstawa chmur*", 6, 448, "black"], ["o pokryciu", 6, 459, "black"],
    ["> 7.9 okt.", 11, 472, "black"], ["> 6.5 okt.", 11, 483, "#555555"], ["> 4.5 okt.", 11, 494, "#aaaaaa"],
    ["> 2.5 okt.", 11, 504, "#dddddd"], ["Widzialność", 6, 530, ORANGE], ["Chmury:", 6, 547, "black"],
    ["średnie", 10, 573, "#aaaaaa"], ["niskie", 10, 586, "#555555"], ["bardzo niskie", 10, 597, "#333333"],
    ["Mgła", 6, 609, "#ffb000"], ["Czas uniwersalny (UTC)", 6, 626, "black"]
]
svg.append("rect").attr("x", 11).attr("y", 505).attr("width", 44).attr("height", 12).attr("fill", DAY)
svg.append("rect").attr("x", 10).attr("y", 551).attr("width", 41).attr("height", 12).attr("fill", DAY)
legend.forEach(d => label(svg, d[0], d[1], d[2], d[3], 11))
label(svg, "> 0.1 okt.", 11, 515, "white", 11)
label(svg, "wysokie", 11, 561, "white", 11)
label(svg, "* powyżej poziomu morza", 6, 652, "black", 8.8, "start", "bold")

const leaders = [
    [[[66,16],[134,16],[157,46]], "black"],
    [[[102,44],[119,44],[157,100]], BROWN],
    [[[92,77],[115,77]], RED], [[[130,77],[135,78],[157,104]], RED],
    [[[70,99],[135,99]], BLUE],
    [[[95,120],[135,120]], SLATE],
    [[[102,138],[133,138],[146,146]], RED],
    [[[106,151],[112,151]], RUST], [[[130,151],[138,153],[147,163]], RUST],
    [[[104,166],[113,166]], "black"], [[[129,166],[133,166],[138,172]], "black"],
    [[[71,179],[140,179]], GREEN],
    [[[80,190],[139,190]], GREEN],
    [[[70,201],[112,201]], "#2040c0"], [[[129,203],[135,203],[161,172]], "#2040c0"],
    [[[81,212],[133,212],[160,178]], "#2040c0"],
    [[[97,224],[140,224],[147,217]], RED],
    [[[52,264],[135,264]], "black"],
    [[[113,334],[118,334]], RED], [[[130,334],[138,316]], RED],
    [[[107,348],[132,348],[145,340]], RED],
    [[[92,367],[135,367]], NAVY],
    [[[86,410],[135,410]], NAVY],
    [[[100,430],[135,430],[185,449]], BROWN],
    [[[57,468],[135,468],[192,456]], "black"],
    [[[57,480],[135,480]], "#555555"],
    [[[56,490],[128,490],[143,501]], "#999999"],
    [[[53,500],[135,500]], "#cccccc"],
    [[[56,509],[135,509]], "#a0dcff"], [[[56,511],[135,511]], "#a0dcff"],
    [[[67,527],[129,527],[170,465]], ORANGE],
    [[[53,556],[187,556]], "#a0dcff"], [[[53,558],[187,558]], "#a0dcff"],
    [[[49,571],[193,571]], "#999999"],
    [[[39,582],[120,582]], "#555555"], [[[129,582],[135,582]], "#555555"],
    [[[74,593],[135,593]], "#333333"],
    [[[26,605],[217,605],[219,590]], "#ffb000"],
    [[[138,623],[148,623],[157,612]], "black"]
]
svg.append("g").attr("fill", "none").attr("stroke-width", 1)
    .selectAll("path").data(leaders).join("path")
    .attr("stroke", d => d[1])
    .attr("d", d => d3.line()(d[0]))
</script>
</body>
</html>
